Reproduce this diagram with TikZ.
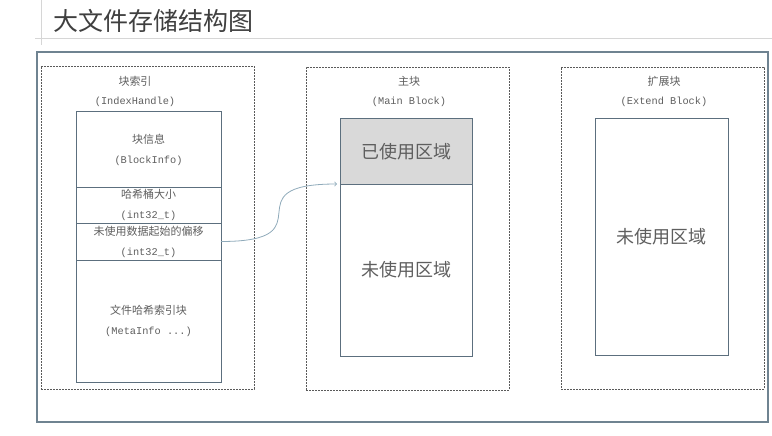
\documentclass[tikz,border=0pt]{standalone}
\usepackage{fontspec}
\setmonofont{Liberation Mono}
\newfontfamily\cjk{Noto Sans CJK SC}
\usetikzlibrary{positioning}
\definecolor{frameGray}{HTML}{6F8391}
\definecolor{boxSlate}{HTML}{5C6F7E}
\definecolor{dashGray}{HTML}{5A5A5A}
\definecolor{textGray}{HTML}{5E5E5E}
\definecolor{titleGray}{HTML}{3F3F3F}
\definecolor{usedFill}{HTML}{D9D9D9}
\definecolor{arrowBlue}{HTML}{8FAABA}
\definecolor{ruleGray}{HTML}{D6D6D6}
\tikzset{
  dashbox/.style={draw=dashGray, line width=0.8pt, dash pattern=on 2pt off 1pt,
    inner sep=0pt, outer sep=0pt, anchor=north west},
  cellbox/.style={draw=boxSlate, line width=1pt, inner sep=0pt, outer sep=0pt,
    anchor=north west, align=center, text=textGray,
    font={\fontsize{11}{20}\selectfont}},
  caption/.style={align=center, text=textGray, inner sep=0pt,
    font={\fontsize{11}{19}\selectfont}},
  bigtext/.style={text=textGray, font={\cjk\fontsize{18}{22}\selectfont}}
}
\newcommand{\zh}[1]{{\cjk #1}}
\newcommand{\en}[1]{{\ttfamily\fontsize{10.3}{19}\selectfont #1}}
\begin{document}
\begin{tikzpicture}[x=1pt, y=-1pt]
% sheet in pixel units of the original slide
\useasboundingbox (0,0) rectangle (772,436);
% Title and slide rules
\draw[ruleGray, line width=0.8pt] (41,0) -- (41,45);
\draw[ruleGray, line width=0.8pt] (35,38) -- (772,38);
\node[anchor=west, text=titleGray, inner sep=0pt, font={\cjk\fontsize{25}{30}\selectfont}] (title) at (53,21) {大文件存储结构图};
% Outer frame
\draw[frameGray, line width=1.2pt] (37,52) rectangle (768,422);
% Index handle
\node[dashbox, minimum width=213, minimum height=323] (idxframe) at (41,66) {};
\node[caption] (idxcap) at (135,91.5) {\zh{块索引}\\\en{(IndexHandle)}};
\node[cellbox, minimum width=145, minimum height=75] (binfo) at (76,112) {\zh{块信息}\\\en{(BlockInfo)}};
\node[cellbox, minimum width=145, minimum height=36] (bucket) at (76,187) {\zh{哈希桶大小}\\\en{(int32\_t)}};
\node[cellbox, minimum width=145, minimum height=37] (offs) at (76,223) {\zh{未使用数据起始的偏移}\\\en{(int32\_t)}};
\node[cellbox, minimum width=145, minimum height=122] (meta) at (76,260) {\zh{文件哈希索引块}\\\en{(MetaInfo ...)}};
% Main block
\node[dashbox, minimum width=203, minimum height=323] (mainframe) at (306,67) {};
\node[caption] (maincap) at (409,91.5) {\zh{主块}\\\en{(Main Block)}};
\node[cellbox, fill=usedFill, minimum width=132, minimum height=65] (used) at (340,119) {};
\node[bigtext] (usedtxt) at (used.center) {已使用区域};
\node[cellbox, minimum width=132, minimum height=172] (unused) at (340,184) {};
\node[bigtext] (unusedtxt) at (unused.center) {未使用区域};
% Extend block
\node[dashbox, minimum width=203, minimum height=322] (extframe) at (561,67) {};
\node[caption] (extcap) at (664,91.5) {\zh{扩展块}\\\en{(Extend Block)}};
\node[cellbox, minimum width=133, minimum height=236] (extfree) at (595,119) {};
\node[bigtext] (extfreetxt) at (extfree.center) {未使用区域};
% Offset pointer
\draw[arrowBlue, line width=0.8pt, ->] (offs.east) .. controls +(110,0) and +(-110,0) .. ([xshift=-3pt]used.south west);
\end{tikzpicture}
\end{document}
